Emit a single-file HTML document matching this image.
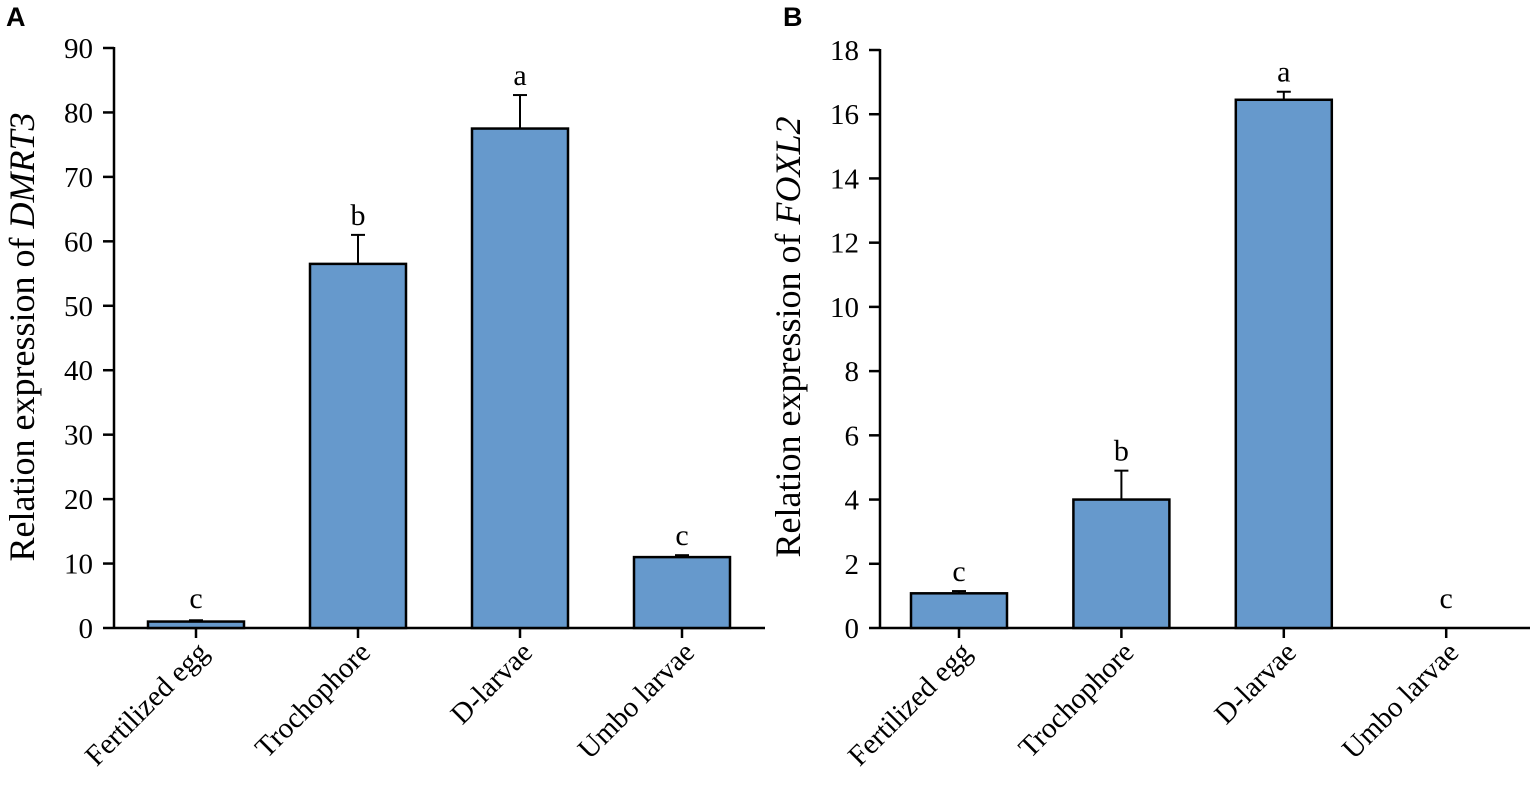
<!DOCTYPE html>
<html><head><meta charset="utf-8">
<style>
body{margin:0;background:#fff;}
svg{display:block;font-family:"Liberation Serif",serif;}
</style></head>
<body>
<svg id="chart" width="1535" height="790" xmlns="http://www.w3.org/2000/svg">
<text x="6" y="26" font-family="Liberation Sans, sans-serif" font-weight="bold" font-size="27">A</text>
<text x="783" y="26" font-family="Liberation Sans, sans-serif" font-weight="bold" font-size="27">B</text>
</svg>
<script>
const categories = ["Fertilized egg","Trochophore","D-larvae","Umbo larvae"];
const valuesA = [1.0, 56.5, 77.5, 11.0];
const errorsA = [0.2, 4.5, 5.2, 0.3];
const lettersA = ["c","b","a","c"];
const ticksA = [0,10,20,30,40,50,60,70,80,90];
const valuesB = [1.08, 4.0, 16.45, 0];
const errorsB = [0.07, 0.9, 0.25, 0];
const lettersB = ["c","b","a","c"];
const ticksB = [0,2,4,6,8,10,12,14,16,18];

const NS = "http://www.w3.org/2000/svg";
const svg = document.getElementById('chart');
function mk(tag, attrs, parent){
  const e = document.createElementNS(NS, tag);
  for (const k in attrs) e.setAttribute(k, attrs[k]);
  (parent||svg).appendChild(e);
  return e;
}
function panel(p, vals, errs, letters, ticks, gene){
  const g = mk('g', {});
  
  
  const y0 = 628, y1 = p.yTop, maxV = ticks[ticks.length-1];
  const y = v => y0 - (v / maxV) * (y0 - y1);
  const x = i => p.first + i * p.step;
  const ya = mk('line', {x1:p.ax, y1:y1-1, x2:p.ax, y2:y0+1, stroke:'#000','stroke-width':2.5}, g);
  
  
  const xa = mk('line', {x1:p.ax, y1:y0, x2:p.axEnd, y2:y0, stroke:'#000','stroke-width':2.5}, g);
  
  
  ticks.forEach(t => {
    mk('line', {x1:p.ax-11, y1:y(t), x2:p.ax, y2:y(t), stroke:'#000','stroke-width':2.5}, g);
    const tl = mk('text', {x:p.ax-21, y:y(t)+10, 'text-anchor':'end','font-size':29}, g);
    tl.textContent = t;
    
    
  });
  const title = mk('text', {transform:`translate(${p.titleX},337) rotate(-90)`, 'text-anchor':'middle','font-size':36}, g);
  
  
  title.appendChild(document.createTextNode('Relation expression of '));
  const it = mk('tspan', {'font-style':'italic'}, title);
  it.textContent = gene;
  categories.forEach((c, i) => {
    const cx = x(i), w = 96, v = vals[i];
    if (v > 0) {
      const b = mk('rect', {x:cx-w/2, y:y(v), width:w, height:y0-y(v), fill:'#6699CC', stroke:'#000','stroke-width':2.5}, g);
      
      
    }
    if (errs[i] > 0) {
      const top = y(v + errs[i]);
      const e1 = mk('line', {x1:cx, y1:y(v), x2:cx, y2:top, stroke:'#000','stroke-width':2}, g);
      
      
      mk('line', {x1:cx-7, y1:top, x2:cx+7, y2:top, stroke:'#000','stroke-width':2}, g);
    }
    const ly = y(v + errs[i]) - 10;
    const lt = mk('text', {x:cx, y:Math.min(ly, y0-20), 'text-anchor':'middle','font-size':30}, g);
    lt.textContent = letters[i];
    
    
    mk('line', {x1:cx, y1:y0, x2:cx, y2:y0+10, stroke:'#000','stroke-width':2.5}, g);
    const xl = mk('text', {transform:`translate(${cx+14},${y0+26}) rotate(-45)`, 'text-anchor':'end','font-size':29}, g);
    xl.textContent = c;
    
    
  });
}
panel({id:'a', ax:114, axEnd:765, yTop:48, first:196, step:162, titleX:34}, valuesA, errorsA, lettersA, ticksA, 'DMRT3');
panel({id:'b', ax:880, axEnd:1530, yTop:50, first:959, step:162.4, titleX:800}, valuesB, errorsB, lettersB, ticksB, 'FOXL2');
</script>
</body></html>
